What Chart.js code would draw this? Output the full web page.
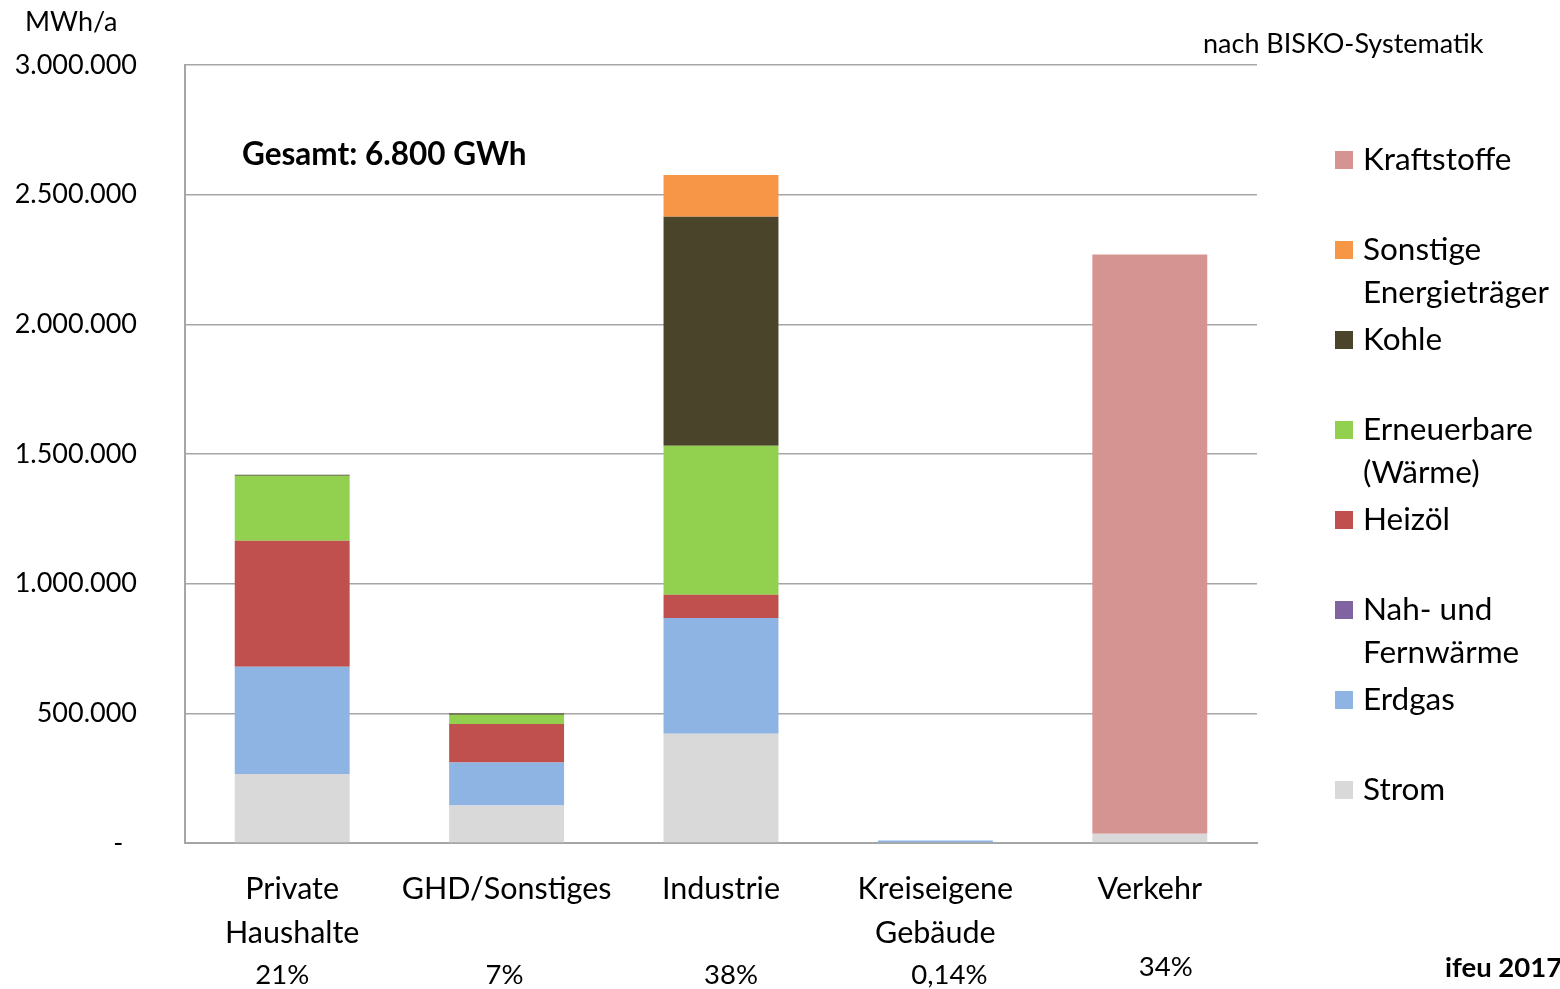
<!DOCTYPE html>
<html lang="de">
<head>
<meta charset="utf-8">
<title>Endenergieverbrauch nach Sektoren</title>
<script src="https://cdn.jsdelivr.net/npm/chart.js@4"></script>
<style>
  html, body { margin: 0; padding: 0; background: #fff; }
  #wrap { position: relative; width: 1560px; height: 989px; }
</style>
</head>
<body>
<div id="wrap">
  <canvas id="chart" width="1560" height="989"></canvas>
</div>
<script>
const sectors = [
  ['Private', 'Haushalte'],
  'GHD/Sonstiges',
  'Industrie',
  ['Kreiseigene', 'Gebäude'],
  'Verkehr'
];
const sectorShares = ['21%', '7%', '38%', '0,14%', '34%'];

// MWh/a per sector: Private, GHD, Industrie, Kreiseigene, Verkehr
const strom        = [266000, 145000, 421500,    0,   35900];
const erdgas       = [413800, 165800, 446200, 9500,       0];
const fernwaerme   = [     0,      0,      0,    0,       0];
const heizoel      = [485900, 148100,  89900,    0,       0];
const erneuerbare  = [250700,  35900, 574600,    0,       0];
const kohle        = [  3900,   5000, 883100,    0,       0];
const sonstige     = [     0,      0, 160800,    0,       0];
const kraftstoffe  = [     0,      0,      0,    0, 2232900];

const yTicks = [0, 500000, 1000000, 1500000, 2000000, 2500000, 3000000];

const FONT = 'Lato, "Open Sans", sans-serif';

const series = [
  { label: 'Strom',                   data: strom,       color: '#D9D9D9' },
  { label: 'Erdgas',                  data: erdgas,      color: '#8EB4E3' },
  { label: 'Nah- und\nFernwärme',     data: fernwaerme,  color: '#8064A2' },
  { label: 'Heizöl',                  data: heizoel,     color: '#C0504D' },
  { label: 'Erneuerbare\n(Wärme)',    data: erneuerbare, color: '#92D050' },
  { label: 'Kohle',                   data: kohle,       color: '#4A452A' },
  { label: 'Sonstige\nEnergieträger', data: sonstige,    color: '#F79646' },
  { label: 'Kraftstoffe',             data: kraftstoffe, color: '#D59392' }
];

const fmt = v => v === 0 ? '-  ' : String(v).replace(/\B(?=(\d{3})+(?!\d))/g, '.');

// extra texts, legend and share labels drawn on top of the chart
const annotations = {
  id: 'annotations',
  afterDraw(chart) {
    const { ctx, scales } = chart;
    ctx.save();
    ctx.fillStyle = '#000';
    ctx.textBaseline = 'middle';

    ctx.font = `27px ${FONT}`;
    ctx.textAlign = 'left';
    ctx.fillText('MWh/a', 25, 22);
    ctx.fillText('nach BISKO-Systematik', 1203, 44);

    ctx.font = `bold 31.5px ${FONT}`;
    ctx.fillText('Gesamt: 6.800 GWh', 242, 155);
    ctx.font = `bold 27.5px ${FONT}`;
    ctx.fillText('ifeu 2017', 1445, 968);

    // share of each sector under the category labels
    const shareOffset = [-10, -2, 10, 14, 16];
    const shareY = [975, 975, 975, 975, 967];
    ctx.font = `27.5px ${FONT}`;
    ctx.textAlign = 'center';
    sectorShares.forEach((s, i) => {
      const x = scales.x.getPixelForValue(i) + shareOffset[i];
      ctx.fillText(s, x, shareY[i]);
    });

    // legend, top entry = top of stack
    ctx.textAlign = 'left';
    ctx.font = `31.5px ${FONT}`;
    const legendItems = series.slice().reverse();
    legendItems.forEach((s, i) => {
      const y = 160 + i * 90;
      ctx.fillStyle = s.color;
      ctx.fillRect(1335, y - 9, 18, 18);
      ctx.fillStyle = '#000';
      s.label.split('\n').forEach((line, j) => {
        ctx.fillText(line, 1363, y + j * 43);
      });
    });
    ctx.restore();
  }
};

new Chart(document.getElementById('chart'), {
  type: 'bar',
  data: {
    labels: sectors,
    datasets: series.map(s => ({
      label: s.label,
      data: s.data,
      backgroundColor: s.color,
      borderWidth: 0,
      categoryPercentage: 1,
      barPercentage: 0.536
    }))
  },
  options: {
    responsive: false,
    animation: false,
    layout: { padding: { top: 65, right: 303, left: 0, bottom: 0 } },
    plugins: {
      legend: { display: false },
      tooltip: { enabled: false }
    },
    scales: {
      x: {
        stacked: true,
        grid: { display: false },
        border: { display: true, color: '#A6A6A6', width: 2 },
        ticks: {
          color: '#000',
          padding: 17,
          maxRotation: 0,
          autoSkip: false,
          font: { family: FONT, size: 30.5, lineHeight: 1.42 }
        },
        afterFit(scale) { scale.height = 146; }
      },
      y: {
        stacked: true,
        min: 0,
        max: 3000000,
        afterBuildTicks(scale) { scale.ticks = yTicks.map(v => ({ value: v })); },
        grid: { color: '#A6A6A6', lineWidth: 1.5, drawTicks: false },
        border: { display: true, color: '#A6A6A6', width: 2 },
        ticks: {
          color: '#000',
          padding: 48,
          callback: v => fmt(v),
          font: { family: FONT, size: 27 }
        },
        afterFit(scale) { scale.width = 185; }
      }
    }
  },
  plugins: [annotations]
});
</script>
</body>
</html>
